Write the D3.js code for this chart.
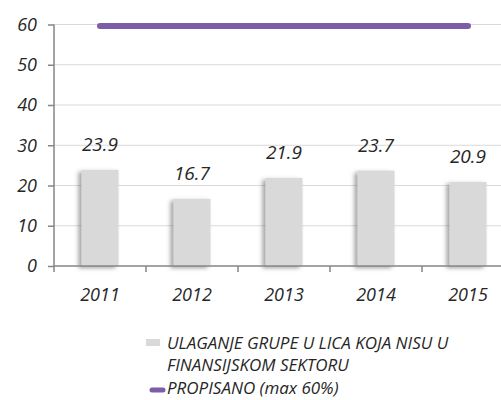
<!DOCTYPE html>
<html><head><meta charset="utf-8">
<script src="https://cdn.jsdelivr.net/npm/d3@7"></script>
<style>
body{margin:0;background:#fff;}
text{font-family:"Open Sans",sans-serif;font-style:italic;fill:#262626;}
</style></head>
<body><svg id="c" width="501" height="400"></svg>
<script>
const years = ["2011","2012","2013","2014","2015"];
const investment = [23.9, 16.7, 21.9, 23.7, 20.9];
const limit = [60, 60, 60, 60, 60];
const yTicks = [0,10,20,30,40,50,60];
const legendLabels = ["ULAGANJE GRUPE U LICA KOJA NISU U", "FINANSIJSKOM SEKTORU", "PROPISANO (max 60%)"];

const svg = d3.select("#c");
const x0 = 54, x1 = 514, yTop = 24.5, yBot = 266;
const xb = d3.scaleBand().domain(years).range([x0, x1]);
const y = d3.scaleLinear().domain([0,60]).range([yBot, yTop]);

const defs = svg.append("defs");
const f = defs.append("filter").attr("id","sh").attr("x","-50%").attr("y","-20%").attr("width","200%").attr("height","140%");
f.append("feDropShadow").attr("dx",-3).attr("dy",2).attr("stdDeviation",2).attr("flood-color","#555").attr("flood-opacity",0.55);

// gridlines
svg.append("g").selectAll("line").data(yTicks.filter(d=>d>0)).join("line")
  .attr("x1",x0).attr("x2",501).attr("y1",d=>y(d)).attr("y2",d=>y(d))
  .attr("stroke","#d9d9d9").attr("stroke-width",1.2);

// bars
svg.append("g").selectAll("rect").data(investment).join("rect")
  .attr("x",(d,i)=>xb(years[i]) + xb.bandwidth()/2 - 18.5)
  .attr("width",37)
  .attr("y",d=>y(d)).attr("height",d=>yBot-y(d))
  .attr("fill","#d9d9d9").attr("filter","url(#sh)");

// value labels
svg.append("g").selectAll("text").data(investment).join("text")
  .attr("x",(d,i)=>xb(years[i]) + xb.bandwidth()/2)
  .attr("y",d=>y(d)-19)
  .style("font-size","19px").attr("text-anchor","middle")
  .text(d=>d.toFixed(1));

// limit line
const line = d3.line().x((d,i)=>xb(years[i])+xb.bandwidth()/2).y(d=>y(d)+1.5);
svg.append("path").datum(limit).attr("d",line)
  .attr("fill","none").attr("stroke","#7b5ea7").attr("stroke-width",6).attr("stroke-linecap","round");

// y axis
const ya = svg.append("g").attr("transform",`translate(${x0},0)`)
  .call(d3.axisLeft(y).tickValues(yTicks).tickSize(6).tickPadding(6));
ya.attr("font-size",null).attr("font-family",null);
ya.select(".domain").attr("stroke","#868686").attr("stroke-width",1.5).attr("d",`M0,${yTop}V${yBot}`);
ya.selectAll(".tick line").attr("stroke","#868686").attr("stroke-width",1.5);
ya.selectAll(".tick text").style("font-size","18px").attr("fill","#262626").attr("x",-17);

// x axis
const xa = svg.append("g").attr("transform",`translate(0,${yBot})`)
  .call(d3.axisBottom(xb).tickSize(0).tickPadding(22));
xa.attr("font-size",null).attr("font-family",null);
xa.select(".domain").attr("stroke","#868686").attr("stroke-width",1.5).attr("d",`M${x0},0H501`);
xa.selectAll(".tick text").style("font-size","18px").attr("fill","#262626");
svg.append("g").selectAll("line").data(years).join("line")
  .attr("x1",d=>xb(d)).attr("x2",d=>xb(d)).attr("y1",yBot).attr("y2",yBot+6)
  .attr("stroke","#868686").attr("stroke-width",1.5);

// legend
const lg = svg.append("g");
lg.append("rect").attr("x",146).attr("y",339).attr("width",14).attr("height",7).attr("fill","#d9d9d9");
lg.append("line").attr("x1",152).attr("x2",163).attr("y1",390).attr("y2",390)
  .attr("stroke","#7b5ea7").attr("stroke-width",5).attr("stroke-linecap","round");
lg.selectAll("text").data(legendLabels).join("text")
  .attr("x",167).attr("y",(d,i)=>[349,371,394][i])
  .style("font-size","17px").text(d=>d);
</script></body></html>
